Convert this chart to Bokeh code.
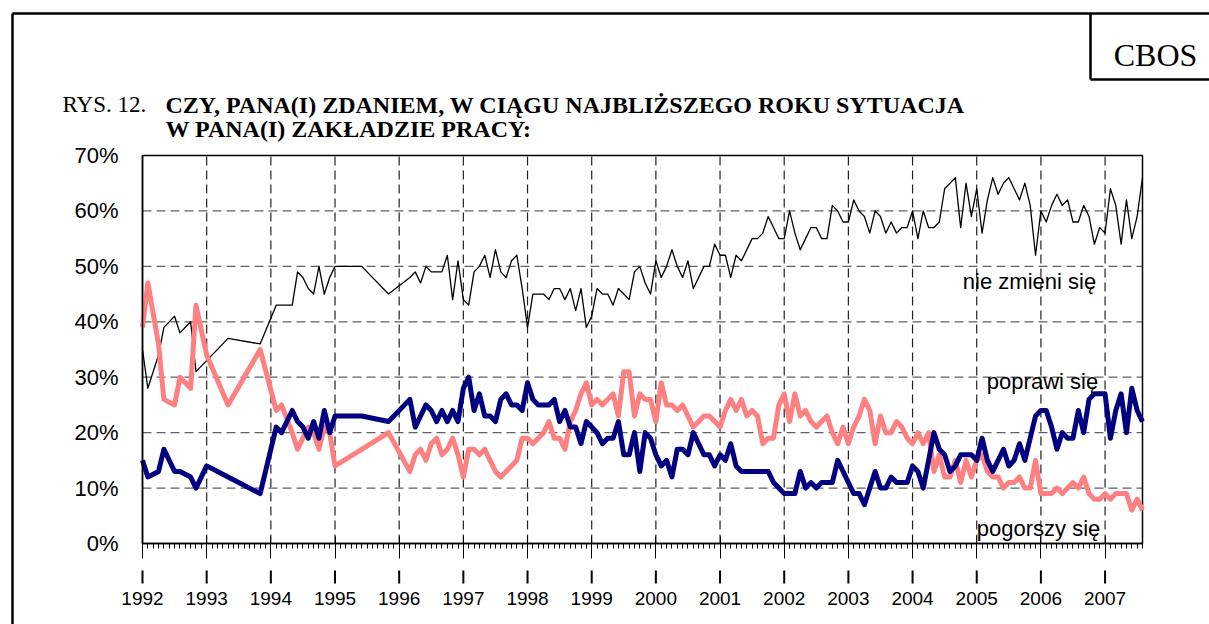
from bokeh.plotting import figure
from bokeh.models import FixedTicker, LinearAxis, Range1d
from bokeh.core.properties import value
from bokeh.embed import file_html
from bokeh.resources import INLINE

# ---------------- data ----------------
surveys = [
    "1992-01", "1992-02", "1992-04", "1992-05", "1992-07", "1992-08", "1992-10", "1992-11",
    "1993-01", "1993-05", "1993-11",
    "1994-02", "1994-03", "1994-05", "1994-06", "1994-07", "1994-08", "1994-09", "1994-10", "1994-11", "1994-12",
    "1995-01", "1995-06", "1995-11",
    "1996-03", "1996-04", "1996-05", "1996-06", "1996-07", "1996-08", "1996-09", "1996-10", "1996-11", "1996-12",
    "1997-01", "1997-02", "1997-03", "1997-04", "1997-05", "1997-06", "1997-07", "1997-08", "1997-09", "1997-10", "1997-11", "1997-12",
    "1998-01", "1998-02", "1998-03", "1998-04", "1998-05", "1998-06", "1998-07", "1998-08", "1998-09", "1998-10", "1998-11", "1998-12",
    "1999-01", "1999-02", "1999-03", "1999-04", "1999-05", "1999-06", "1999-07", "1999-08", "1999-09", "1999-10", "1999-11", "1999-12",
    "2000-01", "2000-02", "2000-03", "2000-04", "2000-05", "2000-06", "2000-07", "2000-08", "2000-09", "2000-10", "2000-11", "2000-12",
    "2001-01", "2001-02", "2001-03", "2001-04", "2001-05", "2001-06", "2001-07", "2001-08", "2001-09", "2001-10", "2001-11", "2001-12",
    "2002-01", "2002-02", "2002-03", "2002-04", "2002-05", "2002-06", "2002-07", "2002-08", "2002-09", "2002-10", "2002-11", "2002-12",
    "2003-01", "2003-02", "2003-03", "2003-04", "2003-05", "2003-06", "2003-07", "2003-08", "2003-09", "2003-10", "2003-11", "2003-12",
    "2004-01", "2004-02", "2004-03", "2004-04", "2004-05", "2004-06", "2004-07", "2004-08", "2004-09", "2004-10", "2004-11", "2004-12",
    "2005-01", "2005-02", "2005-03", "2005-04", "2005-05", "2005-06", "2005-07", "2005-08", "2005-09", "2005-10", "2005-11", "2005-12",
    "2006-01", "2006-02", "2006-03", "2006-04", "2006-05", "2006-06", "2006-07", "2006-08", "2006-09", "2006-10", "2006-11", "2006-12",
    "2007-01", "2007-02", "2007-03", "2007-04", "2007-05", "2007-06", "2007-07", "2007-08",
]

nie_zmieni = [
    35, 28, 34, 39, 41, 38, 40, 31,
    33, 37, 36,
    43, 43, 43, 49, 48, 46, 45, 50, 45, 48,
    50, 50, 45,
    48, 49, 47, 50, 49, 49, 49, 52, 44, 51,
    44, 43, 49, 50, 52, 48, 53, 49, 48, 51, 52, 46,
    39, 45, 45, 45, 44, 46, 46, 44, 46, 42, 46, 39,
    41, 46, 45, 45, 43, 46, 45, 44, 49, 50, 47, 45,
    51, 48, 50, 53, 50, 48, 51, 46, 48, 50, 50, 54,
    52, 52, 48, 52, 51, 53, 55, 55, 56, 59, 57, 55,
    55, 60, 56, 53, 55, 57, 57, 55, 55, 61, 60, 58,
    58, 62, 60, 59, 56, 60, 59, 56, 58, 56, 57, 57,
    60, 55, 60, 57, 57, 58, 64, 65, 66, 57, 65, 59,
    64, 56, 62, 66, 63, 65, 66, 64, 62, 65, 61, 52,
    60, 58, 61, 63, 61, 62, 58, 58, 61, 59, 54, 57,
    56, 64, 61, 54, 62, 55, 59, 66,
]

pogorszy = [
    39, 47, 36, 26, 25, 30, 28, 43,
    34, 25, 35,
    24, 25, 20, 17, 19, 21, 20, 17, 21, 20,
    14, 17, 20,
    13, 16, 17, 15, 18, 19, 16, 17, 19, 16,
    12, 17, 17, 16, 17, 15, 13, 12, 13, 14, 15, 19,
    19, 18, 19, 20, 22, 19, 19, 17, 22, 24, 27, 29,
    25, 26, 25, 26, 27, 23, 31, 31, 23, 27, 26, 26,
    22, 29, 25, 25, 24, 25, 23, 21, 22, 23, 23, 22,
    21, 24, 26, 24, 26, 23, 24, 23, 18, 19, 19, 25,
    27, 22, 27, 23, 24, 22, 21, 22, 23, 20, 18, 21,
    18, 21, 23, 26, 24, 18, 23, 20, 20, 22, 21, 19,
    18, 20, 18, 20, 13, 16, 12, 12, 15, 11, 15, 12,
    15, 16, 13, 12, 12, 10, 11, 11, 12, 10, 10, 15,
    9, 9, 9, 10, 9, 10, 11, 10, 12, 9, 8, 8,
    9, 8, 9, 9, 9, 6, 8, 6,
]

poprawi = [
    15, 12, 13, 17, 13, 13, 12, 10,
    14, 12, 9,
    21, 20, 24, 22, 21, 19, 22, 19, 24, 20,
    23, 23, 22,
    26, 21, 23, 25, 24, 22, 24, 22, 24, 22,
    28, 30, 24, 27, 23, 23, 22, 26, 27, 25, 25, 24,
    29, 26, 25, 25, 25, 26, 22, 24, 21, 21, 18, 22,
    21, 20, 18, 19, 19, 22, 16, 16, 20, 13, 20, 19,
    16, 14, 15, 12, 17, 17, 16, 20, 18, 16, 16, 14,
    16, 15, 18, 14, 13, 13, 13, 13, 13, 13, 11, 10,
    9, 9, 9, 13, 10, 11, 10, 11, 11, 11, 15, 13,
    11, 9, 9, 7, 10, 13, 10, 10, 12, 11, 11, 11,
    14, 13, 10, 15, 20, 17, 16, 13, 14, 16, 16, 16,
    15, 19, 15, 13, 15, 17, 14, 15, 18, 15, 19, 23,
    24, 24, 21, 17, 20, 19, 19, 24, 20, 26, 27, 27,
    27, 19, 24, 27, 20, 28, 24, 22,
]

years = list(range(1992, 2008))
year_labels = [str(y) for y in years]
pct_ticks = [0, 10, 20, 30, 40, 50, 60, 70]
pct_labels = ["0%", "10%", "20%", "30%", "40%", "50%", "60%", "70%"]

series_names = ["nie zmieni się", "poprawi się", "pogorszy się"]

title_prefix = "RYS. 12."
title_line1 = "CZY, PANA(I) ZDANIEM, W CIĄGU NAJBLIŻSZEGO ROKU SYTUACJA"
title_line2 = "W PANA(I) ZAKŁADZIE PRACY:"
badge = "CBOS"

# ---------------- geometry ----------------
def to_year(s):
    y, m = s.split("-")
    return int(y) + (int(m) - 1) / 12.0

x = [to_year(s) for s in surveys]

X_START = 1992.0
X_END = 2007 + 7 / 12.0
Y_MAX = 70

W, H = 1209, 624
PLOT_L, PLOT_R, PLOT_T, PLOT_B = 142, 1142, 155, 543

kx = (X_END - X_START) / (PLOT_R - PLOT_L)
ky = Y_MAX / (PLOT_B - PLOT_T)

def X(px):
    return X_START + (px - PLOT_L) * kx

def Y(py):
    return (PLOT_B - py) * ky

SANS = "Liberation Sans"
SERIF = "Liberation Serif"

p = figure(width=W, height=H, output_backend="svg", toolbar_location=None, title=None,
           x_range=Range1d(X(0), X(W)), y_range=Range1d(Y(H), Y(0)),
           x_axis_location=None, y_axis_location=None,
           min_border=0, min_border_left=0, min_border_right=0, min_border_top=0, min_border_bottom=0,
           background_fill_color="white", border_fill_color="white")
p.outline_line_color = None
p.grid.visible = False

# gridlines (dashed), inside the plot area
p.segment(x0=years[1:], y0=0, x1=years[1:], y1=Y_MAX, line_color="#222222",
          line_width=1.2, line_dash="9 5")
p.segment(x0=X_START, y0=pct_ticks[1:-1], x1=X_END, y1=pct_ticks[1:-1], line_color="#606060",
          line_width=1.3, line_dash="9 5")

# plot-area outline
p.quad(left=[X_START], right=[X_END], bottom=[0], top=[Y_MAX], fill_color=None,
       line_color="black", line_width=1.5)

# series
p.line(x, nie_zmieni, line_color="black", line_width=1.3, line_join="round")
p.line(x, pogorszy, line_color="#FF8080", line_width=5, line_join="round")
p.line(x, poprawi, line_color="#000080", line_width=5, line_join="round")

# x axis at 0 %, monthly minor ticks, year ticks crossing the axis
xa = LinearAxis(fixed_location=0, bounds=(X_START, X_END),
                ticker=FixedTicker(ticks=years, minor_ticks=[X_START + i / 12.0 for i in range(0, 188)]),
                major_label_overrides={yv: l for yv, l in zip(years, year_labels)})
xa.axis_line_color = "black"
xa.axis_line_width = 1.5
xa.major_tick_in = 7
xa.major_tick_out = 15
xa.major_tick_line_width = 1
xa.minor_tick_in = 0
xa.minor_tick_out = 5
xa.minor_tick_line_width = 1
xa.major_label_standoff = 33
xa.major_label_text_font = SANS
xa.major_label_text_font_size = "19px"
xa.major_label_text_color = "black"
p.add_layout(xa, "below")

# the small bars above the year labels
p.segment(x0=years, y0=Y(570), x1=years, y1=Y(583), line_color="black", line_width=2)

# y axis at the left edge of the plot area
ya = LinearAxis(fixed_location=X_START, bounds=(0, Y_MAX), ticker=FixedTicker(ticks=pct_ticks),
                major_label_overrides={t: l for t, l in zip(pct_ticks, pct_labels)})
ya.axis_line_color = "black"
ya.axis_line_width = 1.5
ya.major_tick_in = 0
ya.major_tick_out = 0
ya.minor_tick_line_color = None
ya.major_label_standoff = 24
ya.major_label_text_font = SANS
ya.major_label_text_font_size = "22px"
ya.major_label_text_color = "black"
p.add_layout(ya, "left")

# series labels
p.text(x=[X(1029), X(1042), X(1038)], y=[Y(281), Y(381), Y(528)], text=series_names,
       text_align="center", text_baseline="alphabetic",
       text_font=value(SANS), text_font_size="22px", text_color="black")

# title
p.text(x=[X(62)], y=[Y(104)], text=[title_prefix], text_align="left", text_baseline="alphabetic",
       text_font=value(SERIF), text_font_size="23px", text_color="black")
p.text(x=[X(165), X(165)], y=[Y(104), Y(128)], text=[title_line1, title_line2],
       text_align="left", text_baseline="alphabetic",
       text_font=value(SERIF), text_font_size="24px", text_font_style="bold", text_color="black")

# outer frame and badge box
p.segment(x0=[X(12), X(12), X(1090), X(1090)], y0=[Y(13), Y(13), Y(13), Y(79)],
          x1=[X(1400), X(12), X(1090), X(1400)], y1=[Y(13), Y(800), Y(79), Y(79)],
          line_color="black", line_width=2.5)
p.text(x=[X(1155)], y=[Y(54)], text=[badge], text_align="center", text_baseline="alphabetic",
       text_font=value(SERIF), text_font_size="32px", text_color="black")

open("out.html", "w").write(file_html(p, INLINE))
